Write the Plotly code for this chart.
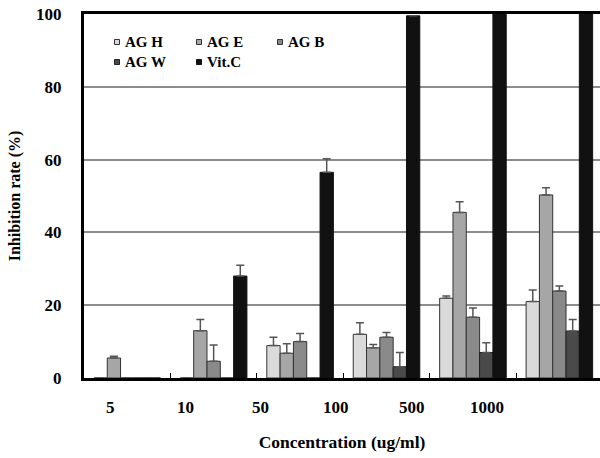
import plotly.graph_objects as go

categories = ["5", "10", "50", "100", "500", "1000"]
series_names = ["AG H", "AG E", "AG B", "AG W", "Vit.C"]

ag_h = [0, 0, 8.9, 12.0, 21.9, 21.0]
ag_h_err = [0, 0, 2.3, 3.2, 0.6, 3.2]
ag_e = [5.5, 13.0, 6.8, 8.3, 45.5, 50.3]
ag_e_err = [0.5, 3.1, 2.6, 0.9, 2.9, 2.0]
ag_b = [0, 4.6, 10.0, 11.2, 16.7, 23.9]
ag_b_err = [0, 4.5, 2.2, 1.3, 2.5, 1.4]
ag_w = [0, 0, 0, 3.1, 7.0, 12.9]
ag_w_err = [0, 0, 0, 3.9, 2.7, 3.2]
vit_c = [0, 28.0, 56.5, 99.5, 100.5, 100.5]
vit_c_err = [0, 3.0, 3.7, 0, 0, 0]

y_ticks = [0, 20, 40, 60, 80, 100]

values = [ag_h, ag_e, ag_b, ag_w, vit_c]
errors = [ag_h_err, ag_e_err, ag_b_err, ag_w_err, vit_c_err]
colors = ["#dadada", "#a6a6a6", "#8a8a8a", "#4a4a4a", "#111111"]
outline = ["#333333", "#333333", "#333333", "#222222", "#111111"]

FONT = "Liberation Serif"
W, H = 600, 458
L, R, T, B = 84, 0, 14, 80
PW, PH = W - L - R, H - T - B

fig = go.Figure()
for name, v, e, c, oc in zip(series_names, values, errors, colors, outline):
    fig.add_trace(go.Bar(
        x=categories, y=v, name=name, showlegend=False,
        marker=dict(color=c, line=dict(color=oc, width=1)),
        error_y=dict(type="data", symmetric=False, array=e,
                     arrayminus=[0] * len(e), color="#555555",
                     thickness=1.5, width=4, visible=True),
    ))

def px_x(X):
    return (X - L) / PW

def px_y(Y):
    return (H - B - Y) / PH

shapes = []
annotations = []
# manual legend (2 rows x 3 columns)
leg_cols = [117, 199, 280]
leg_rows = [42, 62]
for i, (name, c, oc) in enumerate(zip(series_names, colors, outline)):
    cx = leg_cols[i % 3]
    cy = leg_rows[i // 3]
    shapes.append(dict(type="rect", xref="paper", yref="paper",
                       xsizemode="pixel", ysizemode="pixel",
                       xanchor=px_x(cx), yanchor=px_y(cy),
                       x0=-2.5, x1=2.5, y0=-2.5, y1=2.5,
                       fillcolor=c, line=dict(color=oc, width=1)))
    annotations.append(dict(text="<b>" + name + "</b>", xref="paper", yref="paper",
                            x=px_x(cx + 6), y=px_y(cy), xanchor="left", yanchor="middle",
                            showarrow=False, font=dict(family=FONT, size=15, color="black")))

# x category labels
label_x0, label_dx = 110, 75.4
for i, cat in enumerate(categories):
    annotations.append(dict(text="<b>" + cat + "</b>", xref="paper", yref="paper",
                            x=px_x(label_x0 + label_dx * i), y=px_y(407),
                            xanchor="center", yanchor="middle", showarrow=False,
                            font=dict(family=FONT, size=17, color="black")))

fig.update_layout(
    width=W, height=H,
    margin=dict(l=L, r=R, t=T, b=B, pad=0),
    paper_bgcolor="white", plot_bgcolor="white",
    barmode="group", bargap=0.23, bargroupgap=0,
    font=dict(family=FONT, size=16, color="black"),
    shapes=shapes, annotations=annotations,
    xaxis=dict(
        type="category", range=[-0.5, 5.47],
        showticklabels=False, ticks="inside", tickson="boundaries",
        ticklen=5, tickwidth=1, tickcolor="black",
        showline=True, linecolor="black", linewidth=3, mirror=True,
        showgrid=False, zeroline=False,
        title=dict(text="<b>Concentration (ug/ml)</b>", standoff=56,
                   font=dict(family=FONT, size=17.5)),
        automargin=False,
    ),
    yaxis=dict(
        range=[0, 100], tickvals=y_ticks,
        ticktext=["<b>%d</b>" % t for t in y_ticks],
        tickfont=dict(family=FONT, size=17),
        ticks="", ticklabelstandoff=16,
        showline=True, linecolor="black", linewidth=3,
        showgrid=True, gridcolor="#8c8c8c", gridwidth=1.5,
        zeroline=False,
        title=dict(text="<b>Inhibition rate (%)</b>", standoff=12,
                   font=dict(family=FONT, size=16)),
        automargin=False,
    ),
)

fig.write_html("out.html", config={"displayModeBar": False},
               post_script="document.body.style.margin='0';")
